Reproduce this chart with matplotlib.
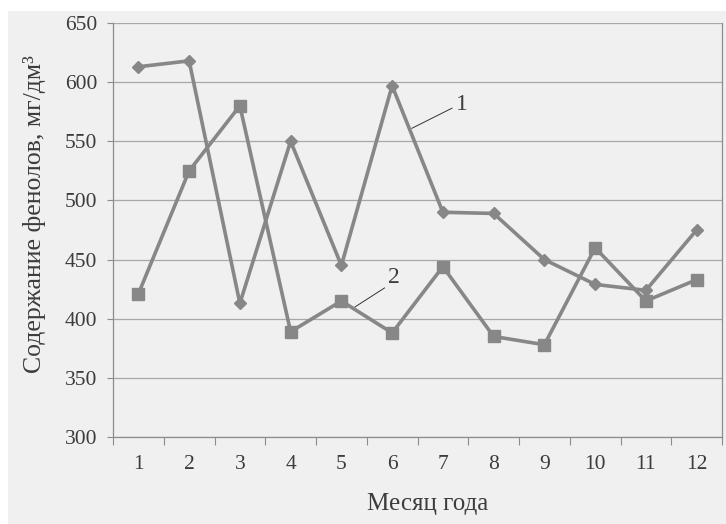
import matplotlib
matplotlib.use("Agg")
import matplotlib.pyplot as plt
from matplotlib.patches import Rectangle

months = list(range(1, 13))
month_labels = [str(m) for m in months]
# curve 1 (diamonds) and curve 2 (squares), mg/dm3
phenols_1 = [613, 618, 413, 550, 445, 597, 490, 489, 450, 429, 424, 475]
phenols_2 = [421, 525, 580, 389, 415, 388, 444, 385, 378, 460, 415, 433]
y_ticks = [300, 350, 400, 450, 500, 550, 600, 650]

BG = "#eff0ef"
LINE = "#878787"
GRID = "#a8a8a8"
TEXT = "#3c3c3c"

plt.rcParams["font.family"] = ["Liberation Serif", "DejaVu Serif"]

fig = plt.figure(figsize=(7.26, 5.24), dpi=100)
fig.patch.set_facecolor("white")
fig.patches.append(Rectangle((8 / 726, 0), 1, 1 - 11 / 524, transform=fig.transFigure,
                             facecolor=BG, edgecolor="none", zorder=-10))

ax = fig.add_axes([113 / 726, (524 - 437) / 524, 609 / 726, 414 / 524])
ax.set_facecolor(BG)

ax.plot(months, phenols_1, color=LINE, lw=2.6, marker="D", ms=6, zorder=3)
ax.plot(months, phenols_2, color=LINE, lw=2.6, marker="s", ms=8.5, zorder=3)

ax.set_xlim(0.5, 12.5)
ax.set_ylim(300, 650)
ax.set_yticks(y_ticks)
ax.set_xticks(months)
ax.set_xticklabels(month_labels)
ax.set_xticks([m + 0.5 for m in range(0, 13)], minor=True)
ax.tick_params(axis="x", which="major", length=0, pad=13, labelsize=15.5, labelcolor=TEXT)
ax.tick_params(axis="x", which="minor", length=5.5, width=0.8, color="#8c8c8c")
ax.tick_params(axis="y", length=4.5, width=0.8, color="#8c8c8c", pad=7,
               labelsize=15.5, labelcolor=TEXT)

ax.grid(axis="y", color=GRID, lw=0.9)
ax.set_axisbelow(True)
for side in ["left", "bottom", "right"]:
    ax.spines[side].set_color("#8c8c8c")
    ax.spines[side].set_linewidth(0.9)
ax.spines["top"].set_visible(False)

ax.set_xlabel("Месяц года", fontsize=18, color=TEXT)
ax.xaxis.set_label_coords(0.516, -0.135)
ax.set_ylabel("Содержание фенолов, мг/дм³", fontsize=18.5, color=TEXT)
ax.yaxis.set_label_coords(-0.11, 0.539)

# curve numbers with leader lines
ax.plot([6.39, 7.18], [561, 578], color="#333333", lw=0.7, zorder=4)
ax.text(7.38, 581, "1", fontsize=17, color=TEXT, ha="center", va="center")
ax.plot([5.27, 5.85], [410, 426], color="#333333", lw=0.7, zorder=4)
ax.text(6.04, 435, "2", fontsize=17, color=TEXT, ha="center", va="center")

fig.savefig("out.png", dpi=100, facecolor=fig.get_facecolor())
